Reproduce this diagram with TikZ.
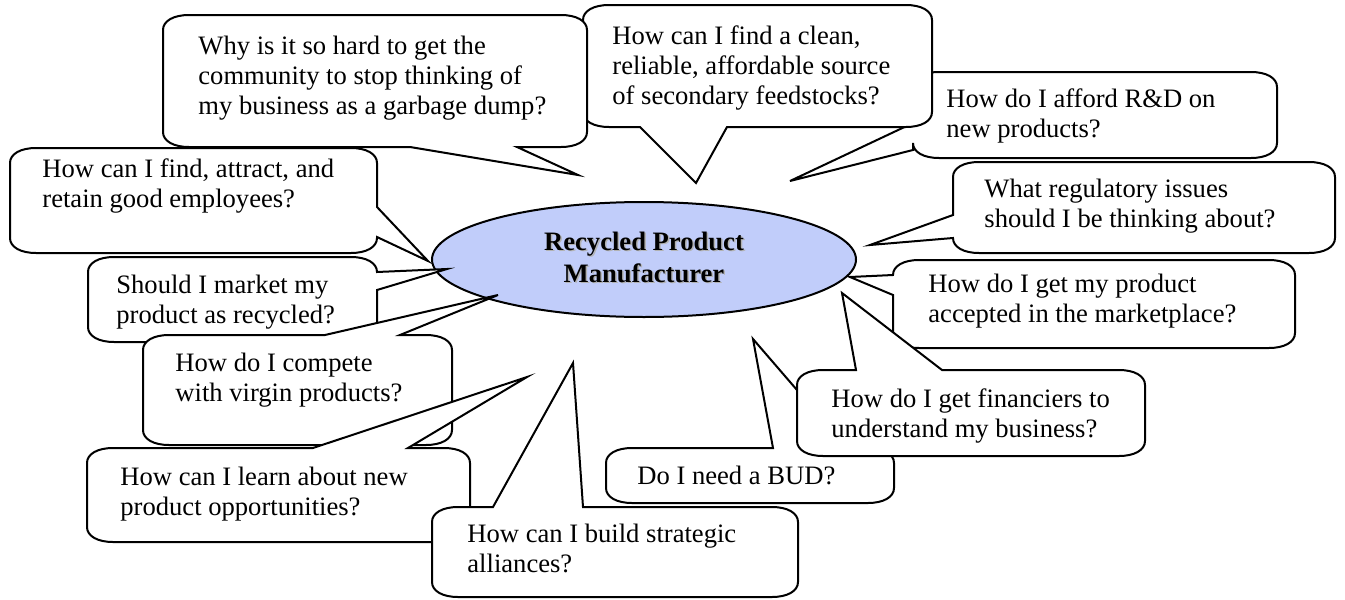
\documentclass[tikz,border=0pt]{standalone}
\usepackage{fontspec}
\setmainfont{Liberation Serif}
\usetikzlibrary{shapes.geometric}
\definecolor{ellcol}{RGB}{193,205,250}
\def\rx{26}\def\ry{15}\def\cf{0.4}
% callout: L T R B  top-fragment right-fragment bottom-fragment left-fragment
\newcommand{\cbx}[8]{%
\filldraw[cbox] (#1+\rx,#2) #5 -- (#3-\rx,#2)
 .. controls (#3-\cf*\rx,#2) and (#3,#2+\cf*\ry) .. (#3,#2+\ry) #6
 -- (#3,#4-\ry) .. controls (#3,#4-\cf*\ry) and (#3-\cf*\rx,#4) .. (#3-\rx,#4) #7
 -- (#1+\rx,#4) .. controls (#1+\cf*\rx,#4) and (#1,#4-\cf*\ry) .. (#1,#4-\ry) #8
 -- (#1,#2+\ry) .. controls (#1,#2+\cf*\ry) and (#1+\cf*\rx,#2) .. cycle;}
\newcommand{\qlines}[1]{\parbox[t]{300pt}{\fontsize{13.3}{15}\selectfont #1}}
\tikzset{
  cbox/.style={draw=black, fill=white, line width=1pt, line join=miter},
  qtext/.style={inner sep=0pt, anchor=base west},
  hubtext/.style={inner sep=0pt, anchor=base, font=\fontsize{13.3}{16}\selectfont\bfseries},
}
\begin{document}
\begin{tikzpicture}[x=0.5pt,y=-0.5pt]
\useasboundingbox (0,0) rectangle (1345,600);
% central ellipse
\node[draw, ellipse, fill=ellcol, line width=1pt, minimum width=212pt, minimum height=57.5pt, inner sep=0pt] (hub) at (644,259.5) {};
\node[hubtext, text=black!30] (hubs1) at (645.5,251.5) {Recycled Product};
\node[hubtext, text=black!30] (hubs2) at (645.5,283.5) {Manufacturer};
\node[hubtext] (hub1) at (644,250) {Recycled Product};
\node[hubtext] (hub2) at (644,282) {Manufacturer};

% C: R&D
\cbx{913}{72}{1277}{158}{}{}{}{-- (913,150) -- (790,181) -- (913,123)}
\node[qtext] (tC) at (946,107) {\qlines{How do I afford R\&D on\\new products?}};
% B: clean source
\cbx{583}{5}{932}{127}{}{}{-- (727,127) -- (696,183) -- (640,127)}{}
\node[qtext] (tB) at (612,44) {\qlines{How can I find a clean,\\reliable, affordable source\\of secondary feedstocks?}};
% H: employees
\cbx{10}{148}{377}{253}{}{-- (377,207) -- (428,261) -- (377,237)}{}{}
\node[qtext] (tH) at (42,177) {\qlines{How can I find, attract, and\\retain good employees?}};
% A: garbage dump
\cbx{163}{15}{587}{147}{}{}{-- (517,147) -- (578,175) -- (410,147)}{}
\node[qtext] (tA) at (198,54) {\qlines{Why is it so hard to get the\\community to stop thinking of\\my business as a garbage dump?}};
% I: market as recycled
\cbx{88}{257}{377}{342}{}{-- (377,272) -- (447,269) -- (377,290)}{}{}
\node[qtext] (tI) at (116,293) {\qlines{Should I market my\\product as recycled?}};
% J: compete
\cbx{143}{335}{452}{445}{-- (325,335) -- (498,295) -- (400,335)}{}{}{}
\node[qtext] (tJ) at (175,371) {\qlines{How do I compete\\with virgin products?}};
% K: learn
\cbx{87}{448}{470}{542}{-- (313,448) -- (527,377) -- (408,448)}{}{}{}
\node[qtext] (tK) at (120,485) {\qlines{How can I learn about new\\product opportunities?}};
% L: alliances
\cbx{432}{507}{798}{597}{-- (493,507) -- (573,363) -- (583,507)}{}{}{}
\node[qtext] (tL) at (467,542) {\qlines{How can I build strategic\\alliances?}};
% D: regulatory
\cbx{953}{162}{1335}{253}{}{}{}{-- (953,238) -- (870,245) -- (953,215)}
\node[qtext] (tD) at (984,197) {\qlines{What regulatory issues\\should I be thinking about?}};
% E: marketplace
\cbx{893}{260}{1295}{348}{}{}{}{-- (893,295) -- (850,277) -- (893,275)}
\node[qtext] (tE) at (928,292) {\qlines{How do I get my product\\accepted in the marketplace?}};
% G: BUD
\cbx{606}{448}{894}{503}{-- (773,448) -- (753,339) -- (847,448)}{}{}{}
\node[qtext] (tG) at (637,484) {\qlines{Do I need a BUD?}};
% F: financiers
\cbx{797}{370}{1145}{456}{-- (856,370) -- (842,293) -- (942,370)}{}{}{}
\node[qtext] (tF) at (831,407) {\qlines{How do I get financiers to\\understand my business?}};
\end{tikzpicture}
\end{document}
